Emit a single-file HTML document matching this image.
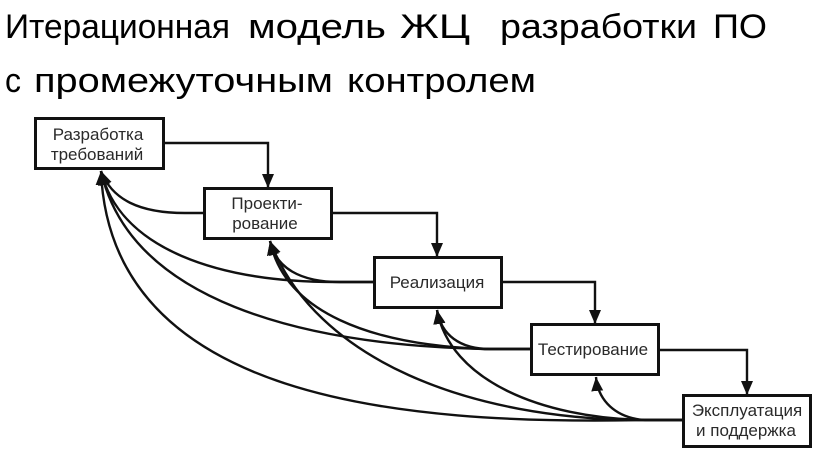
<!DOCTYPE html>
<html>
<head>
<meta charset="utf-8">
<style>
  html,body{margin:0;padding:0;background:#fff;}
  svg{display:block;}
  .t{font-family:"Liberation Sans",Arial,sans-serif;font-size:34px;fill:#000;}
  .b{font-family:"Liberation Sans",Arial,sans-serif;font-size:17px;fill:#2a2a2a;text-anchor:middle;}
  .box{fill:#fff;stroke:#111;stroke-width:3;}
  .ln{fill:none;stroke:#111;stroke-width:2.4;}
</style>
</head>
<body>
<svg width="816" height="452" viewBox="0 0 816 452" xmlns="http://www.w3.org/2000/svg">
  <defs>
    <marker id="ah" markerUnits="userSpaceOnUse" markerWidth="16" markerHeight="14" refX="14" refY="6" orient="auto">
      <path d="M0,0 L14,6 L0,12 z" fill="#111"/>
    </marker>
  </defs>

  <!-- Title -->
  <text class="t" x="5" y="38" textLength="225" lengthAdjust="spacingAndGlyphs">Итерационная</text>
  <text class="t" x="248" y="38" textLength="138" lengthAdjust="spacingAndGlyphs">модель</text>
  <text class="t" x="400" y="38" textLength="70" lengthAdjust="spacingAndGlyphs">ЖЦ</text>
  <text class="t" x="500" y="38" textLength="197" lengthAdjust="spacingAndGlyphs">разработки</text>
  <text class="t" x="713" y="38" textLength="54" lengthAdjust="spacingAndGlyphs">ПО</text>

  <text class="t" x="5" y="92" textLength="16" lengthAdjust="spacingAndGlyphs">с</text>
  <text class="t" x="34" y="92" textLength="299" lengthAdjust="spacingAndGlyphs">промежуточным</text>
  <text class="t" x="347" y="92" textLength="189" lengthAdjust="spacingAndGlyphs">контролем</text>

  <!-- Back (feedback) curves -->
  <!-- to box1 -->
  <path class="ln" marker-end="url(#ah)" d="M203,213 L185,213 C140,213 112,200 101,171"/>
  <path class="ln" marker-end="url(#ah)" d="M373,282 L335,282 C220,282 120,250 101,171"/>
  <path class="ln" marker-end="url(#ah)" d="M530,349 L485,349 C300,345 130,300 101,171"/>
  <path class="ln" marker-end="url(#ah)" d="M682,420 L645,420 C400,425 110,400 101,171"/>
  <!-- to box2 -->
  <path class="ln" marker-end="url(#ah)" d="M373,282 L340,282 C300,282 276,268 270,241"/>
  <path class="ln" marker-end="url(#ah)" d="M530,349 L485,349 C370,345 285,312 270,241"/>
  <path class="ln" marker-end="url(#ah)" d="M682,420 L645,420 C470,420 315,360 270,241"/>
  <!-- to box3 -->
  <path class="ln" marker-end="url(#ah)" d="M530,349 L490,349 C460,349 441,335 437,310"/>
  <path class="ln" marker-end="url(#ah)" d="M682,420 L645,420 C540,418 450,380 437,310"/>
  <!-- to box4 -->
  <path class="ln" marker-end="url(#ah)" d="M682,420 L645,420 C615,418 598,400 596,377"/>

  <!-- Forward connectors -->
  <path class="ln" marker-end="url(#ah)" d="M165,143 H268 V188"/>
  <path class="ln" marker-end="url(#ah)" d="M333,213 H437 V257"/>
  <path class="ln" marker-end="url(#ah)" d="M503,282 H595 V324"/>
  <path class="ln" marker-end="url(#ah)" d="M660,350 H747 V395"/>

  <!-- Boxes -->
  <rect class="box" x="35.5" y="118.5" width="128" height="50"/>
  <text class="b" x="98" y="140">Разработка</text>
  <text class="b" x="97" y="160">требований</text>

  <rect class="box" x="204.5" y="188.5" width="127" height="50"/>
  <text class="b" x="267" y="209">Проекти-</text>
  <text class="b" x="265" y="229">рование</text>

  <rect class="box" x="374.5" y="257.5" width="127" height="50"/>
  <text class="b" x="437" y="288">Реализация</text>

  <rect class="box" x="531.5" y="324.5" width="127" height="50"/>
  <text class="b" x="593" y="355">Тестирование</text>

  <rect class="box" x="683.5" y="395.5" width="127" height="51"/>
  <text class="b" x="747" y="416">Эксплуатация</text>
  <text class="b" x="746" y="436">и поддержка</text>
</svg>
</body>
</html>
